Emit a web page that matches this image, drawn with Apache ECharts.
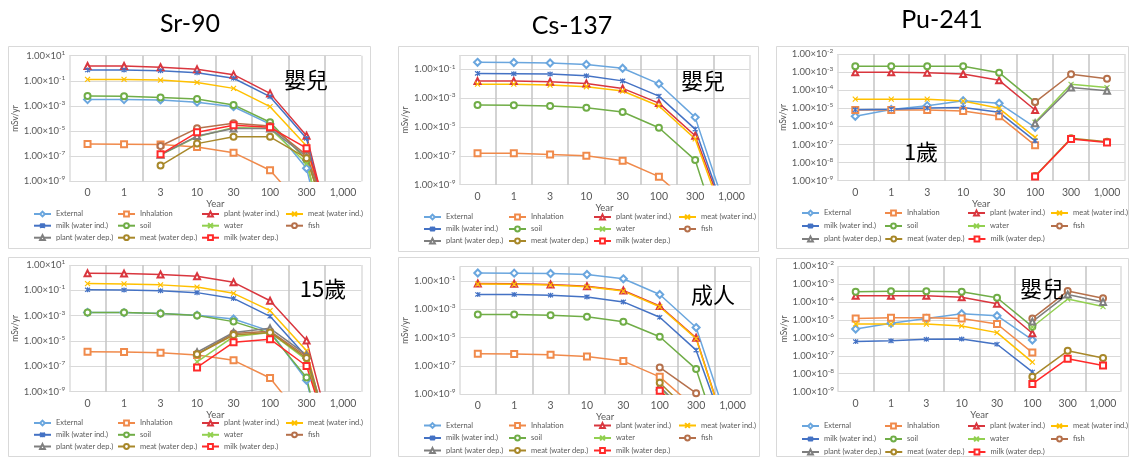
<!DOCTYPE html>
<html><head><meta charset="utf-8">
<script src="https://cdn.jsdelivr.net/npm/echarts@6/dist/echarts.min.js"></script>
<style>html,body{margin:0;padding:0;background:#fff}#c{width:1129px;height:459px}</style>
</head><body><div id="c"></div>
<script>
// ---------- categories / tick labels ----------
const years = ['0', '1', '3', '10', '30', '100', '300', '1,000'];
const seriesNames = ['External', 'Inhalation', 'plant (water ind.)', 'meat (water ind.)', 'milk (water ind.)', 'soil', 'water', 'fish', 'plant (water dep.)', 'meat (water dep.)', 'milk (water dep.)'];
const radionuclides = ['Sr-90', 'Cs-137', 'Pu-241'];
const ageGroups = ['嬰兒', '嬰兒', '1歲', '15歲', '成人', '嬰兒'];
const yTicksSr = [-9, -7, -5, -3, -1, 1];      // exponents of 10 shown on the Sr-90 axes
const yTicksCs = [-9, -7, -5, -3, -1];         // exponents shown on the Cs-137 axes
const yTicksPu = [-9, -8, -7, -6, -5, -4, -3, -2]; // exponents shown on the Pu-241 axes
const N = null;

// ---------- Sr-90, infant (mSv/yr) ----------
const srInf_external   = [3.2e-3, 3.2e-3, 3.0e-3, 2.0e-3, 8.7e-4, 3.6e-5, 1.1e-8, 1e-20];
const srInf_inhalation = [9.3e-7, 9.0e-7, 8.5e-7, 5.4e-7, 1.9e-7, 7.6e-9, 4e-12, 1e-16];
const srInf_plantInd   = [1.5, 1.5, 1.2, 0.82, 0.31, 1.0e-2, 4.3e-6, 1e-17];
const srInf_meatInd    = [0.13, 0.13, 0.115, 0.075, 0.025, 8.7e-4, 6.5e-7, 1e-17];
const srInf_milkInd    = [0.72, 0.72, 0.64, 0.44, 0.16, 5.5e-3, 2.6e-6, 1e-18];
const srInf_soil       = [6.2e-3, 6.0e-3, 4.8e-3, 3.5e-3, 1.2e-3, 5.0e-5, 5.0e-8, 1e-20];
const srInf_water      = [N, N, 1.3e-7, 3.5e-6, 1.9e-5, 1.6e-5, 2.7e-8, 1e-18];
const srInf_fish       = [N, N, 6.5e-7, 1.65e-5, 4.2e-5, 2.5e-5, 1.2e-7, 1e-15];
const srInf_plantDep   = [N, N, 1.3e-7, 4.0e-6, 1.6e-5, 1.6e-5, 9.0e-8, 1e-16];
const srInf_meatDep    = [N, N, 1.8e-8, 1.0e-6, 3.5e-6, 3.5e-6, 7.0e-8, 1e-16];
const srInf_milkDep    = [N, N, 1.4e-7, 8.0e-6, 2.9e-5, 2.0e-5, 4.3e-7, 1e-15];

// ---------- Cs-137, infant ----------
const csInf_external   = [0.31, 0.30, 0.28, 0.22, 0.12, 1.0e-2, 4.7e-5, 1.2e-12];
const csInf_inhalation = [1.5e-7, 1.5e-7, 1.26e-7, 1.02e-7, 4.6e-8, 3.6e-9, 2.5e-11, 1e-14];
const csInf_plantInd   = [1.55e-2, 1.55e-2, 1.38e-2, 1.07e-2, 4.8e-3, 4.6e-4, 2.5e-6, 4e-13];
const csInf_meatInd    = [9.5e-3, 9.5e-3, 8.2e-3, 6.3e-3, 3.2e-3, 2.9e-4, 1.5e-6, 1.6e-13];
const csInf_milkInd    = [5.3e-2, 5.0e-2, 4.8e-2, 3.6e-2, 1.6e-2, 1.4e-3, 7.2e-6, 5e-13];
const csInf_soil       = [3.4e-4, 3.2e-4, 2.9e-4, 2.2e-4, 1.1e-4, 8.9e-6, 5.1e-8, 8e-16];
const csInf_water      = [N, N, N, N, N, N, N, N];
const csInf_fish       = [N, N, N, N, N, N, N, N];
const csInf_plantDep   = [N, N, N, N, N, N, N, N];
const csInf_meatDep    = [N, N, N, N, N, N, N, N];
const csInf_milkDep    = [N, N, N, N, N, N, N, N];

// ---------- Pu-241, 1 year ----------
const puOne_external   = [3.6e-6, 8.7e-6, 1.4e-5, 2.6e-5, 1.9e-5, 8.9e-7, N, N];
const puOne_inhalation = [8.1e-6, 8.1e-6, 8.0e-6, 7.1e-6, 3.6e-6, 9.0e-8, N, N];
const puOne_plantInd   = [9.7e-4, 9.7e-4, 9.3e-4, 7.9e-4, 3.5e-4, 8.1e-6, N, N];
const puOne_meatInd    = [3.2e-5, 3.2e-5, 3.2e-5, 2.5e-5, 1.0e-5, 2.5e-7, N, N];
const puOne_milkInd    = [8.3e-6, 9.0e-6, 1.04e-5, 1.1e-5, 6.0e-6, 1.6e-7, N, N];
const puOne_soil       = [2.1e-3, 2.1e-3, 2.1e-3, 2.1e-3, 9.3e-4, 2.2e-5, N, N];
const puOne_water      = [N, N, N, N, N, 1.7e-6, 2.1e-4, 1.4e-4];
const puOne_fish       = [N, N, N, N, N, 2.2e-5, 7.6e-4, 4.3e-4];
const puOne_plantDep   = [N, N, N, N, N, 1.5e-6, 1.4e-4, 9.3e-5];
const puOne_meatDep    = [N, N, N, N, N, 1.8e-9, 2.2e-7, 1.4e-7];
const puOne_milkDep    = [N, N, N, N, N, 1.7e-9, 2.0e-7, 1.3e-7];

// ---------- Sr-90, 15 years ----------
const srTeen_external   = [1.8e-3, 1.75e-3, 1.5e-3, 1.1e-3, 5.5e-4, 6.0e-5, 8.0e-9, 1e-20];
const srTeen_inhalation = [1.4e-6, 1.35e-6, 1.2e-6, 8.0e-7, 3.0e-7, 1.2e-8, 3e-12, 1e-16];
const srTeen_plantInd   = [2.2, 2.1, 1.8, 1.28, 0.43, 1.5e-2, 1.1e-5, 1e-16];
const srTeen_meatInd    = [0.34, 0.32, 0.27, 0.18, 0.058, 2.5e-3, 1.7e-6, 1e-17];
const srTeen_milkInd    = [0.11, 0.105, 0.093, 0.066, 0.023, 8.9e-4, 5.8e-7, 1e-17];
const srTeen_soil       = [1.8e-3, 1.75e-3, 1.5e-3, 1.05e-3, 3.4e-4, 4.2e-5, 1.3e-8, 1e-20];
const srTeen_water      = [N, N, N, 2.3e-7, 2.2e-5, 4.8e-5, 3.2e-7, 1e-17];
const srTeen_fish       = [N, N, N, 9.3e-7, 4.0e-5, 6.0e-5, 6.0e-7, 1e-16];
const srTeen_plantDep   = [N, N, N, 1.3e-6, 4.8e-5, 1.0e-4, 8.0e-7, 1e-16];
const srTeen_meatDep    = [N, N, N, 9.0e-7, 3.0e-5, 4.8e-5, 4.5e-7, 1e-16];
const srTeen_milkDep    = [N, N, N, 8.3e-8, 7.9e-6, 1.4e-5, 1.07e-7, 1e-16];

// ---------- Cs-137, adult ----------
const csAdult_external   = [0.36, 0.35, 0.33, 0.28, 0.14, 1.1e-2, 5.1e-5, 1e-12];
const csAdult_inhalation = [7.2e-7, 7.0e-7, 6.2e-7, 4.7e-7, 2.2e-7, 1.7e-8, 1e-10, 1e-14];
const csAdult_plantInd   = [6.5e-2, 6.2e-2, 5.5e-2, 4.2e-2, 2.1e-2, 1.7e-3, 9.8e-6, 1e-13];
const csAdult_meatInd    = [6.0e-2, 5.8e-2, 5.2e-2, 3.9e-2, 1.9e-2, 1.5e-3, 8.5e-6, 1e-13];
const csAdult_milkInd    = [1.1e-2, 1.1e-2, 9.8e-3, 7.4e-3, 3.3e-3, 2.7e-4, 1.3e-6, 1e-13];
const csAdult_soil       = [4.3e-4, 4.3e-4, 3.8e-4, 2.9e-4, 1.3e-4, 1.15e-5, 6.0e-8, 1e-15];
const csAdult_water      = [N, N, N, N, N, 2.8e-9, 1e-11, 1e-14];
const csAdult_fish       = [N, N, N, N, N, 7.9e-8, 1.2e-9, 1e-14];
const csAdult_plantDep   = [N, N, N, N, N, 3.5e-9, 1e-11, 1e-14];
const csAdult_meatDep    = [N, N, N, N, N, 6.6e-9, 2e-11, 1e-14];
const csAdult_milkDep    = [N, N, N, N, N, 1.8e-9, 1e-11, 1e-14];

// ---------- Pu-241, infant ----------
const puInf_external   = [3.1e-6, 6.5e-6, 1.2e-5, 2.2e-5, 1.7e-5, 7.6e-7, N, N];
const puInf_inhalation = [1.2e-5, 1.3e-5, 1.3e-5, 1.2e-5, 5.9e-6, 1.5e-7, N, N];
const puInf_plantInd   = [2.2e-4, 2.2e-4, 2.2e-4, 1.8e-4, 8.0e-5, 1.8e-6, N, N];
const puInf_meatInd    = [5.9e-6, 5.9e-6, 5.8e-6, 4.6e-6, 1.95e-6, 4.4e-8, N, N];
const puInf_milkInd    = [6.2e-7, 6.8e-7, 8.3e-7, 8.6e-7, 4.4e-7, 1.26e-8, N, N];
const puInf_soil       = [3.7e-4, 3.9e-4, 3.9e-4, 3.7e-4, 1.7e-4, 4.2e-6, N, N];
const puInf_water      = [N, N, N, N, N, 4.0e-6, 1.45e-4, 5.5e-5];
const puInf_fish       = [N, N, N, N, N, 1.2e-5, 4.0e-4, 1.6e-4];
const puInf_plantDep   = [N, N, N, N, N, 8.0e-6, 2.6e-4, 1.0e-4];
const puInf_meatDep    = [N, N, N, N, N, 6.9e-9, 1.9e-7, 7.6e-8];
const puInf_milkDep    = [N, N, N, N, N, 2.7e-9, 6.9e-8, 2.9e-8];

const srInfData = [srInf_external, srInf_inhalation, srInf_plantInd, srInf_meatInd, srInf_milkInd, srInf_soil, srInf_water, srInf_fish, srInf_plantDep, srInf_meatDep, srInf_milkDep];
const csInfData = [csInf_external, csInf_inhalation, csInf_plantInd, csInf_meatInd, csInf_milkInd, csInf_soil, csInf_water, csInf_fish, csInf_plantDep, csInf_meatDep, csInf_milkDep];
const puOneData = [puOne_external, puOne_inhalation, puOne_plantInd, puOne_meatInd, puOne_milkInd, puOne_soil, puOne_water, puOne_fish, puOne_plantDep, puOne_meatDep, puOne_milkDep];
const srTeenData = [srTeen_external, srTeen_inhalation, srTeen_plantInd, srTeen_meatInd, srTeen_milkInd, srTeen_soil, srTeen_water, srTeen_fish, srTeen_plantDep, srTeen_meatDep, srTeen_milkDep];
const csAdultData = [csAdult_external, csAdult_inhalation, csAdult_plantInd, csAdult_meatInd, csAdult_milkInd, csAdult_soil, csAdult_water, csAdult_fish, csAdult_plantDep, csAdult_meatDep, csAdult_milkDep];
const puInfData = [puInf_external, puInf_inhalation, puInf_plantInd, puInf_meatInd, puInf_milkInd, puInf_soil, puInf_water, puInf_fish, puInf_plantDep, puInf_meatDep, puInf_milkDep];

// ---------- styles ----------
const FONT = 'Lato, "Liberation Sans", sans-serif';
const GREY = '#595959';
const X_PATH = 'path://M0,0L10,10M10,0L0,10';
const STAR_PATH = 'path://M0,0L10,10M10,0L0,10M5,-1L5,11';
const seriesStyles = [
  { color: '#6AA6DE', symbol: 'emptyDiamond', size: 7 },
  { color: '#F08A4B', symbol: 'emptyRect', size: 6 },
  { color: '#D9363E', symbol: 'emptyTriangle', size: 6 },
  { color: '#FFC000', symbol: X_PATH, size: 5 },
  { color: '#4472C4', symbol: STAR_PATH, size: 5 },
  { color: '#70AD47', symbol: 'emptyCircle', size: 6 },
  { color: '#92D050', symbol: X_PATH, size: 5 },
  { color: '#B5704B', symbol: 'emptyCircle', size: 6 },
  { color: '#7F7F7F', symbol: 'emptyTriangle', size: 6 },
  { color: '#A8882A', symbol: 'emptyCircle', size: 6 },
  { color: '#FF2A2A', symbol: 'emptyRect', size: 6 }
];
const legendRows = [
  ['External', 'Inhalation', 'plant (water ind.)', 'meat (water ind.)'],
  ['milk (water ind.)', 'soil', 'water', 'fish'],
  ['plant (water dep.)', 'meat (water dep.)', 'milk (water dep.)']
];

const panels = [
  { data: srInfData, ticks: yTicksSr, yMax: 1, grid: { left: 69.3, top: 55.7, width: 292, height: 125.6 }, frame: [8, 46, 362, 202], nameGap: 46, lg: { left: 33, rows: [214, 225.7, 237.7], pitch: 83 }, tag: [306, 80] },
  { data: csInfData, ticks: yTicksCs, yMax: 0, grid: { left: 459.4, top: 55, width: 290.2, height: 129.7 }, frame: [398, 46, 360, 205], nameGap: 45, lg: { left: 423, rows: [217, 229, 241], pitch: 84 }, tag: [703, 81] },
  { data: puOneData, ticks: yTicksPu, yMax: -2, grid: { left: 837.3, top: 54, width: 287.7, height: 126.7 }, frame: [776, 46, 352, 202], nameGap: 43, lg: { left: 801, rows: [213, 226, 239], pitch: 82 }, tag: [921, 152] },
  { data: srTeenData, ticks: yTicksSr, yMax: 1, grid: { left: 69.3, top: 265, width: 292, height: 126.7 }, frame: [8, 257, 362, 199], nameGap: 46, lg: { left: 33, rows: [423, 434.8, 446.5], pitch: 83 }, tag: [323, 289] },
  { data: csAdultData, ticks: yTicksCs, yMax: 0, grid: { left: 459.6, top: 266.7, width: 291.1, height: 127.6 }, frame: [398, 257, 361, 199], nameGap: 45, lg: { left: 423, rows: [425.5, 438, 450.5], pitch: 84 }, tag: [713, 295] },
  { data: puInfData, ticks: yTicksPu, yMax: -2, grid: { left: 838, top: 266, width: 282.7, height: 125.7 }, frame: [776, 258, 352, 198], nameGap: 43, lg: { left: 801, rows: [426, 439, 452], pitch: 82 }, tag: [1042, 289] }
];
const titlePos = [[190, 24], [572, 26], [942, 20]];

const grids = [], xAxes = [], yAxes = [], series = [], legends = [], graphics = [];
panels.forEach((p, pi) => {
  grids.push(Object.assign({ containLabel: false }, p.grid));
  xAxes.push({
    type: 'category', gridIndex: pi, data: years, boundaryGap: true,
    axisLine: { show: false }, axisTick: { show: false },
    axisLabel: { interval: 0, margin: 6, fontSize: 10.5, color: GREY, fontFamily: FONT },
    splitLine: { show: true, interval: 0, lineStyle: { width: 1.5, color: ['#dcdcdc', '#c4c4c4', '#c4c4c4', '#c4c4c4', '#c4c4c4', '#c4c4c4', '#c4c4c4', '#c4c4c4'] } },
    name: 'Year', nameLocation: 'middle', nameGap: 16,
    nameTextStyle: { fontSize: 9.5, color: GREY, fontFamily: FONT }
  });
  const ticks = p.ticks;
  // label / gridline axis in exponent units
  yAxes.push({
    type: 'value', gridIndex: pi, position: 'left',
    min: ticks[0], max: p.yMax, interval: ticks[1] - ticks[0],
    axisLine: { show: false }, axisTick: { show: false },
    splitLine: { show: true, lineStyle: { color: '#d9d9d9', width: 1 } },
    axisLabel: {
      margin: 4,
      formatter: v => ticks.indexOf(Math.round(v)) >= 0 ? '{m|1.00×10}{e|' + Math.round(v) + '}' : '',
      rich: {
        m: { fontSize: 9.5, lineHeight: 13, color: GREY, fontFamily: FONT },
        e: { fontSize: 6.5, color: GREY, fontFamily: FONT, verticalAlign: 'top' }
      }
    },
    name: 'mSv/yr', nameLocation: 'middle', nameRotate: 90, nameGap: p.nameGap,
    nameTextStyle: { fontSize: 8.5, color: GREY, fontFamily: FONT }
  });
  // data axis: log scale
  yAxes.push({
    type: 'log', logBase: 10, gridIndex: pi, position: 'left', show: false,
    min: Number('1e' + ticks[0]), max: Number('1e' + p.yMax)
  });
  p.data.forEach((arr, si) => {
    const st = seriesStyles[si];
    series.push({
      type: 'line', name: seriesNames[si], xAxisIndex: pi, yAxisIndex: 2 * pi + 1,
      data: arr, symbol: st.symbol, symbolSize: st.size, showSymbol: true, showAllSymbol: true,
      clip: true, animation: false, connectNulls: false,
      lineStyle: { width: 1.5, color: st.color },
      itemStyle: { color: st.color, borderColor: st.color, borderWidth: 1.2 },
      emphasis: { disabled: true }
    });
  });
  legendRows.forEach((row, ri) => {
    legends.push({
      data: row, left: p.lg.left, top: p.lg.rows[ri] - 4.5, width: 4 * p.lg.pitch + 40,
      orient: 'horizontal', padding: 0,
      itemGap: 3, itemWidth: 17, itemHeight: 6,
      textStyle: { fontSize: 7.5, lineHeight: 9, color: GREY, fontFamily: FONT, width: p.lg.pitch - 25 }
    });
  });
  graphics.push({
    type: 'rect', silent: true, z: -1,
    shape: { x: p.frame[0] + 0.5, y: p.frame[1] + 0.5, width: p.frame[2], height: p.frame[3] },
    style: { fill: 'rgba(0,0,0,0)', stroke: '#d9d9d9', lineWidth: 1 }
  });
  graphics.push({
    type: 'text', silent: true, z: 10,
    style: { text: ageGroups[pi], x: p.tag[0], y: p.tag[1], align: 'center', verticalAlign: 'middle', textAlign: 'center', textVerticalAlign: 'middle', font: '22px "Noto Sans CJK TC"', fill: '#000' }
  });
});
radionuclides.forEach((t, i) => {
  graphics.push({
    type: 'text', silent: true,
    style: { text: t, x: titlePos[i][0], y: titlePos[i][1], align: 'center', verticalAlign: 'middle', textAlign: 'center', textVerticalAlign: 'middle', font: '25px Lato', fill: '#000' }
  });
});

const chart = echarts.init(document.getElementById('c'), null, { renderer: 'canvas', width: 1129, height: 459 });
chart.setOption({
  animation: false,
  backgroundColor: '#fff',
  grid: grids, xAxis: xAxes, yAxis: yAxes, series: series, legend: legends,
  graphic: graphics
});
</script>
</body></html>
